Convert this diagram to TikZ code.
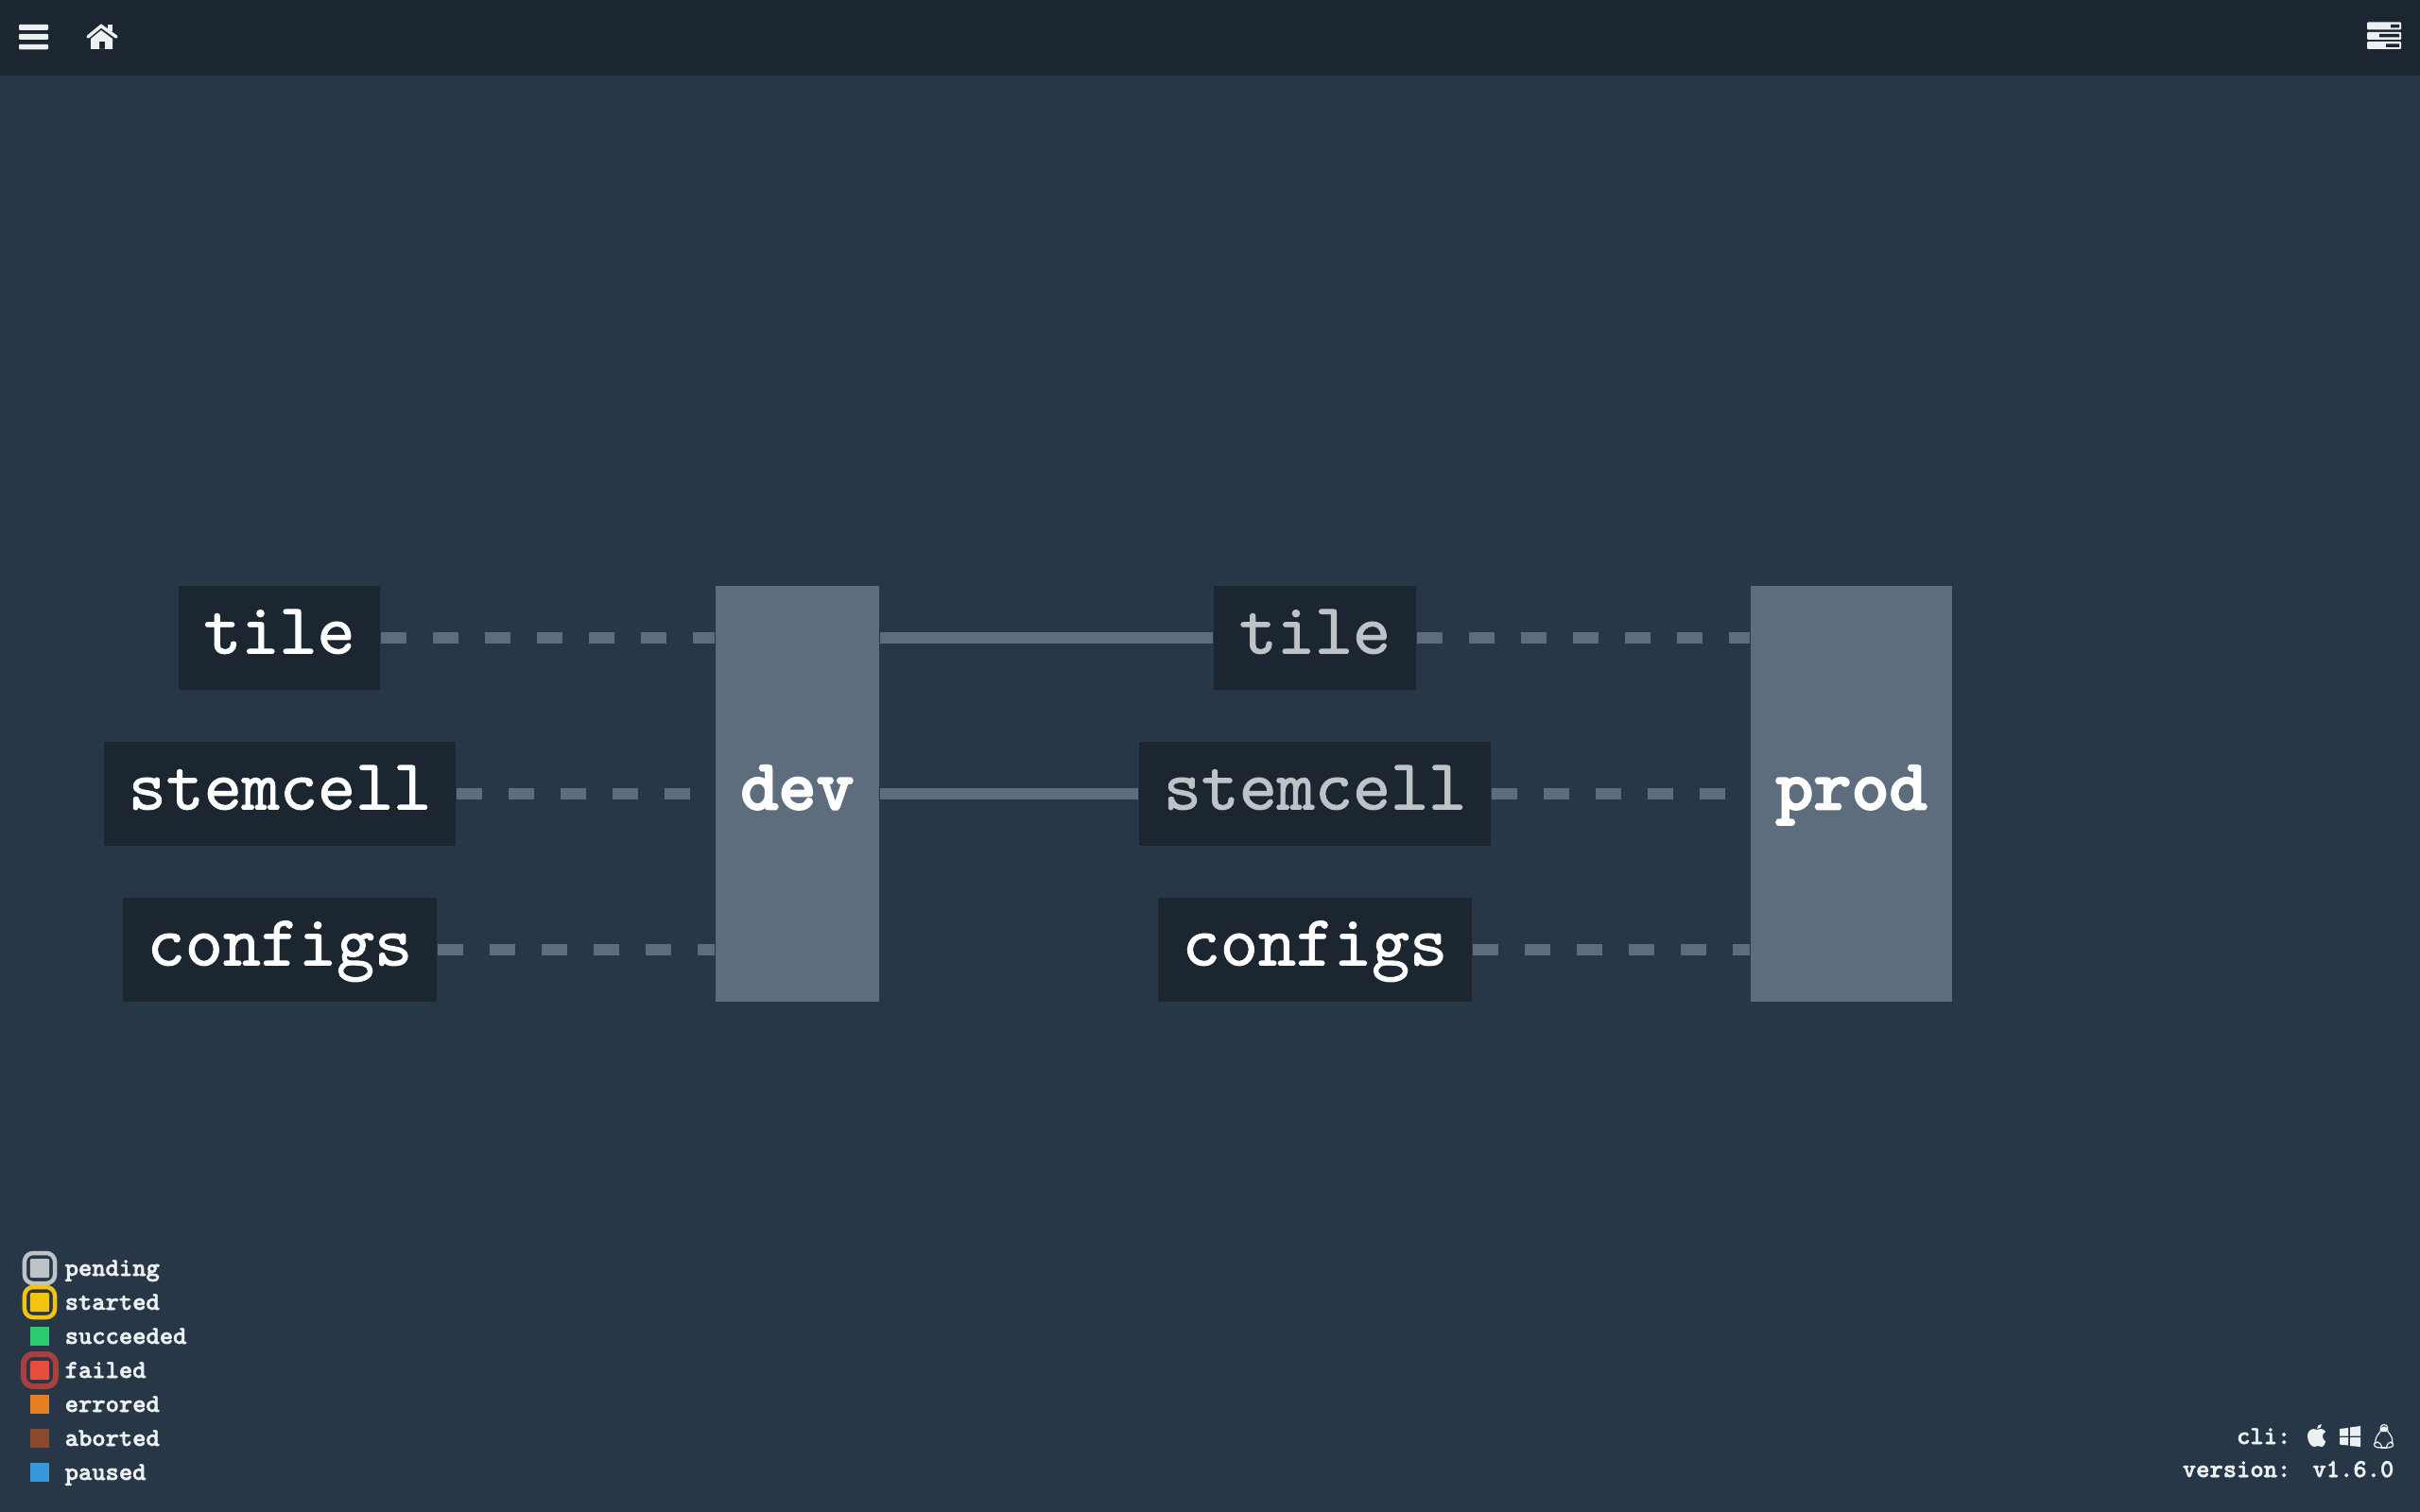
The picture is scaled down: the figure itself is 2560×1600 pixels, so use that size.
\documentclass[tikz,border=0pt]{standalone}
\usepackage{fontspec}
\newfontfamily\nodett[FakeBold=1.2]{lmmono10-regular.otf}
\newfontfamily\gatett[FakeBold=2.5]{lmmonolt10-bold.otf}
\newfontfamily\smalltt[FakeBold=2]{lmmonolt10-bold.otf}
\definecolor{bgc}{HTML}{283747}
\definecolor{barc}{HTML}{1B2631}
\definecolor{nodec}{HTML}{5D6D7E}
\definecolor{dimc}{HTML}{BDC3C7}
\definecolor{iconc}{HTML}{ECF0F1}
\definecolor{startedc}{HTML}{F1C40F}
\definecolor{succeededc}{HTML}{2ECC71}
\definecolor{failedc}{HTML}{E74C3C}
\definecolor{failring}{HTML}{A93F3F}
\definecolor{erroredc}{HTML}{E67E22}
\definecolor{abortedc}{HTML}{8B4A2F}
\definecolor{pausedc}{HTML}{3498DB}
\tikzset{
 x=0.01cm,y=-0.01cm,
 pipebox/.style={rectangle,fill=barc,inner sep=0pt,minimum height=1.1cm,text height=0.55cm,text depth=0.22cm,align=center,
   font=\fontsize{21.7}{25}\selectfont\nodett,text=white},
 gatebox/.style={rectangle,fill=nodec,inner sep=0pt,minimum height=4.4cm,text height=0.55cm,text depth=0.22cm,
   font=\fontsize{21.7}{25}\selectfont\gatett,text=white},
 dashedge/.style={draw=nodec,line width=0.115cm,dash pattern=on 0.275cm off 0.275cm},
 solidedge/.style={draw=nodec,line width=0.115cm},
 swatch/.style={rectangle,inner sep=0pt,minimum size=0.2cm},
 ring/.style={rectangle,rounded corners=0.09cm,inner sep=0pt,fill=bgc,minimum size=0.32cm,line width=0.045cm},
 legendtext/.style={anchor=base west,inner sep=0pt,text=iconc,font=\fontsize{7.75}{9}\selectfont\smalltt},
 infotext/.style={anchor=base east,inner sep=0pt,text=iconc,font=\fontsize{7.75}{9}\selectfont\smalltt},
}
\begin{document}
\begin{tikzpicture}
\useasboundingbox (0,0) rectangle (2560,1600);
\fill[bgc] (0,0) rectangle (2560,1600);
\fill[barc] (0,0) rectangle (2560,80);
% hamburger
\begin{scope}[iconc]
\fill[rounded corners=0.01cm] (20,26) rectangle (51,32) (20,36) rectangle (51,42) (20,47) rectangle (51,52.5);
% home
\draw[line width=0.035cm,line cap=round,line join=miter] (93,39) -- (107,27.5) -- (123,39);
\fill (114,26) rectangle (119,33);
\fill[even odd rule] (107,32) -- (119,41) -- (119,52) -- (96,52) -- (96,41) -- cycle (105,44) rectangle (111,52);
% server icon
\fill[rounded corners=0.01cm] (2504,23.5) rectangle (2540,31.5) (2504,34) rectangle (2540,42) (2504,44) rectangle (2540,52);
\fill[barc] (2529,26) rectangle (2538,29.5) (2517,36) rectangle (2538,39.5) (2524,46.5) rectangle (2538,50);
\end{scope}
% pipeline nodes
\node[pipebox,minimum width=2.13cm] (tileA) at (295.5,675) {tile};
\node[pipebox,minimum width=3.72cm] (stemA) at (296,840) {stemcell};
\node[pipebox,minimum width=3.32cm] (confA) at (296,1005) {configs};
\node[gatebox,minimum width=1.73cm] (dev) at (843.5,840) {dev};
\node[pipebox,minimum width=2.14cm,text=dimc] (tileB) at (1391,675) {tile};
\node[pipebox,minimum width=3.72cm,text=dimc] (stemB) at (1391,840) {stemcell};
\node[pipebox,minimum width=3.32cm] (confB) at (1391,1005) {configs};
\node[gatebox,minimum width=2.13cm] (prod) at (1958.5,840) {prod};
% connectors
\draw[dashedge] (tileA.east) -- (tileA.east -| dev.west);
\draw[dashedge] (stemA.east) -- (stemA.east -| dev.west);
\draw[dashedge] (confA.east) -- (confA.east -| dev.west);
\draw[solidedge] (tileB.west -| dev.east) -- (tileB.west);
\draw[solidedge] (stemB.west -| dev.east) -- (stemB.west);
\draw[dashedge] (tileB.east) -- (tileB.east -| prod.west);
\draw[dashedge] (stemB.east) -- (stemB.east -| prod.west);
\draw[dashedge] (confB.east) -- (confB.east -| prod.west);
% legend
\node[ring,draw=dimc] (ringpending) at (42,1342) {};
\node[ring,draw=startedc] (ringstarted) at (42,1378) {};
\node[ring,draw=failring,line width=0.06cm,minimum size=0.34cm,rounded corners=0.1cm] (ringfailed) at (42,1450) {};
\node[swatch,fill=dimc,rounded corners=0.01cm] (sqpending) at (42,1342) {};
\node[swatch,fill=startedc,rounded corners=0.01cm] (sqstarted) at (42,1378) {};
\node[swatch,fill=succeededc] (sqsucceeded) at (42,1414) {};
\node[swatch,fill=failedc,rounded corners=0.01cm] (sqfailed) at (42,1450) {};
\node[swatch,fill=erroredc] (sqerrored) at (42,1486) {};
\node[swatch,fill=abortedc] (sqaborted) at (42,1522) {};
\node[swatch,fill=pausedc] (sqpaused) at (42,1558) {};
\node[legendtext] (lpending) at (68,1350) {pending};
\node[legendtext] (lstarted) at (68,1386) {started};
\node[legendtext] (lsucceeded) at (68,1422) {succeeded};
\node[legendtext] (lfailed) at (68,1458) {failed};
\node[legendtext] (lerrored) at (68,1494) {errored};
\node[legendtext] (laborted) at (68,1530) {aborted};
\node[legendtext] (lpaused) at (68,1566) {paused};
% bottom right
\node[infotext] (cli) at (2424,1528) {cli:};
\node[infotext] (version) at (2424,1563) {version:};
\node[infotext] (vernum) at (2533,1563) {v1.6.0};
% apple
\fill[iconc] (2451,1513) .. controls (2447,1511) and (2441,1512) .. (2441,1520)
  .. controls (2441,1526) and (2445,1531) .. (2448,1531)
  .. controls (2450,1531) and (2450,1530) .. (2452,1530)
  .. controls (2454,1530) and (2454,1531) .. (2456,1531)
  .. controls (2458,1531) and (2460,1527) .. (2460,1525)
  .. controls (2457,1524) and (2455,1518) .. (2460,1515)
  .. controls (2458,1511) and (2453,1512) .. (2451,1513) -- cycle;
\fill[iconc] (2451,1512) .. controls (2451,1509) and (2453,1507) .. (2456,1507)
  .. controls (2456,1510) and (2454,1512) .. (2451,1512) -- cycle;
% windows
\fill[iconc] (2475,1512) -- (2484,1511) -- (2484,1519.5) -- (2475,1519.5) -- cycle
  (2486,1510.5) -- (2497,1509) -- (2497,1519.5) -- (2486,1519.5) -- cycle
  (2475,1521) -- (2484,1521) -- (2484,1529.5) -- (2475,1528.5) -- cycle
  (2486,1521) -- (2497,1521) -- (2497,1531) -- (2486,1530) -- cycle;
% tux
\begin{scope}[draw=iconc,line width=0.012cm]
\draw (2522,1507.5) .. controls (2518,1507.5) and (2518,1512) .. (2518,1515)
  .. controls (2514,1519) and (2512,1524) .. (2513,1528);
\draw (2522,1507.5) .. controls (2526,1507.5) and (2526,1512) .. (2526,1515)
  .. controls (2530,1519) and (2532,1524) .. (2530,1528);
\draw (2512,1527) .. controls (2510,1530) and (2513,1532) .. (2519,1532) .. controls (2520,1530) and (2518,1527) .. (2515,1526) -- cycle;
\draw (2531,1527) .. controls (2533,1530) and (2530,1532) .. (2525,1532) .. controls (2524,1530) and (2526,1527) .. (2529,1526) -- cycle;
\fill[iconc] (2519,1511) .. controls (2520,1509) and (2524,1509) .. (2525,1511) -- (2525,1515) -- (2519,1515) -- cycle;
\draw (2519,1532) -- (2525,1532);
\end{scope}
\end{tikzpicture}
\end{document}
